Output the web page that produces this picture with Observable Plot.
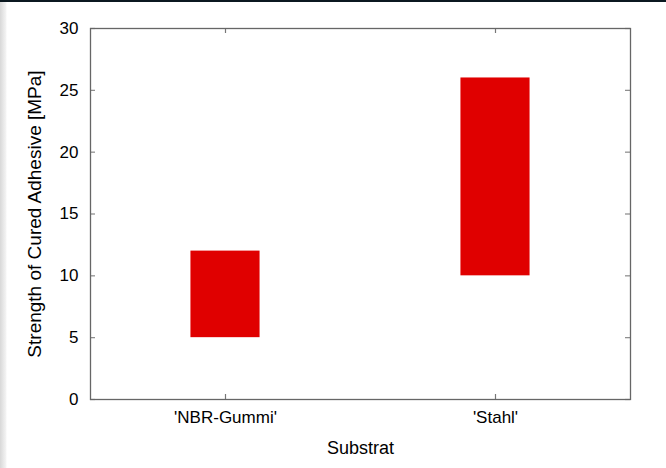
<!DOCTYPE html>
<html>
<head>
<meta charset="utf-8">
<script src="https://cdn.jsdelivr.net/npm/d3@7"></script>
<script src="https://cdn.jsdelivr.net/npm/@observablehq/plot@0.6"></script>
<style>
  html, body { margin: 0; padding: 0; background: #fff; }
  body { width: 666px; height: 468px; position: relative; overflow: hidden; font-family: "Liberation Sans", Arial, sans-serif; }
  #topline { position: absolute; left: 0; top: 0; width: 666px; height: 2px; background: #0b1820; }
  #leftstrip { position: absolute; left: 0; top: 2px; width: 7px; height: 466px; background: linear-gradient(to right, #d8d8d8, #f2f2f2 80%, #fff); }
  #chart { position: absolute; left: 0; top: 0; }
</style>
</head>
<body>
<div id="chart"></div>
<div id="topline"></div>
<div id="leftstrip"></div>
<script>
const categories = ["'NBR-Gummi'", "'Stahl'"];
const lowValues = [5, 10];
const highValues = [12, 26];
const yTicks = [0, 5, 10, 15, 20, 25, 30];

const data = categories.map((c, i) => ({pos: i + 1, label: c, low: lowValues[i], high: highValues[i]}));
const halfBox = 0.128;
const tickX = 5 / 270;
const tickY = 5 / 12.37;
const catPos = data.map(d => d.pos);
const FS = 17;

const chart = Plot.plot({
  width: 666,
  height: 468,
  marginLeft: 90,
  marginRight: 36,
  marginTop: 28,
  marginBottom: 69,
  style: {fontFamily: "'Liberation Sans', Arial, sans-serif", fontSize: FS + "px", color: "#000", background: "transparent"},
  x: {domain: [0.5, 2.5]},
  y: {domain: [0, 30]},
  marks: [
    Plot.rect(data, {x1: d => d.pos - halfBox, x2: d => d.pos + halfBox, y1: "low", y2: "high", fill: "#e00000"}),
    Plot.ruleY(yTicks, {x1: 0.5, x2: 0.5 + tickX, stroke: "#888", strokeWidth: 1.2}),
    Plot.ruleY(yTicks, {x1: 2.5 - tickX, x2: 2.5, stroke: "#888", strokeWidth: 1.2}),
    Plot.ruleX(catPos, {y1: 0, y2: tickY, stroke: "#777", strokeWidth: 1.2}),
    Plot.ruleX(catPos, {y1: 30 - tickY, y2: 30, stroke: "#777", strokeWidth: 1.2}),
    Plot.frame({stroke: "#666", strokeWidth: 1.3}),
    Plot.axisY({ticks: yTicks, tickSize: 0, tickPadding: 12, label: null, fontSize: FS, fill: "#000"}),
    Plot.axisX({ticks: catPos, tickSize: 0, tickPadding: 11, tickFormat: v => categories[v - 1], label: null, fontSize: FS, fill: "#000"}),
    Plot.text(["Strength of Cured Adhesive [MPa]"], {frameAnchor: "left", textAnchor: "middle", dx: -56, rotate: -90, fontSize: 19, fill: "#000"}),
    Plot.text(["Substrat"], {frameAnchor: "bottom", textAnchor: "middle", dy: 54, fontSize: 18, fill: "#000"})
  ]
});
document.getElementById("chart").appendChild(chart);
</script>
</body>
</html>
